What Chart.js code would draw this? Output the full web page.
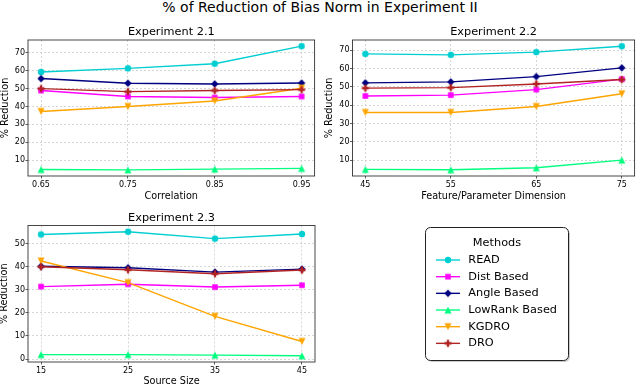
<!DOCTYPE html>
<html>
<head>
<meta charset="utf-8">
<script src="https://cdn.jsdelivr.net/npm/chart.js@4.4.1/dist/chart.umd.min.js"></script>
<style>
    body { margin: 0; width: 640px; height: 386px; overflow: hidden; background: #fff; position: relative; font-family: 'DejaVu Sans', sans-serif; }
    #main-title { position: absolute; left: 0; top: 0; width: 640px; text-align: center; font-size: 14px; line-height: 14px; color: #000; }
    canvas { position: absolute; }
</style>
</head>
<body>
<div id="main-title">% of Reduction of Bias Norm in Experiment II</div>
<canvas id="exp21" width="320" height="190" style="left:0;top:20px"></canvas>
<canvas id="exp22" width="320" height="190" style="left:320px;top:20px"></canvas>
<canvas id="exp23" width="640" height="180" style="left:0;top:210px"></canvas>
<script>
const methods = ['READ', 'Dist Based', 'Angle Based', 'LowRank Based', 'KGDRO', 'DRO'];

// Experiment 2.1 - correlation
const correlation = [0.65, 0.75, 0.85, 0.95];
const correlationLabels = ['0.65', '0.75', '0.85', '0.95'];
const read21 = [59.3, 61.3, 63.9, 73.7];
const dist21 = [48.9, 45.6, 45.0, 45.6];
const angle21 = [55.6, 53.0, 52.6, 53.1];
const lowrank21 = [4.8, 4.6, 5.0, 5.4];
const kgdro21 = [37.2, 40.0, 43.1, 50.2];
const dro21 = [50.0, 48.3, 48.9, 49.4];
const yTicks21 = [10, 20, 30, 40, 50, 60, 70];

// Experiment 2.2 - feature/parameter dimension
const dimension = [45, 55, 65, 75];
const dimensionLabels = ['45', '55', '65', '75'];
const read22 = [68.0, 67.5, 69.0, 72.2];
const dist22 = [45.0, 45.5, 48.5, 54.2];
const angle22 = [52.2, 52.7, 55.6, 60.4];
const lowrank22 = [4.9, 4.7, 5.8, 10.0];
const kgdro22 = [36.0, 36.0, 39.3, 46.2];
const dro22 = [49.3, 49.6, 51.6, 54.0];
const yTicks22 = [10, 20, 30, 40, 50, 60, 70];

// Experiment 2.3 - source size
const sourceSize = [15, 25, 35, 45];
const sourceSizeLabels = ['15', '25', '35', '45'];
const read23 = [54.0, 55.2, 52.2, 54.2];
const dist23 = [31.4, 32.4, 31.2, 32.0];
const angle23 = [40.2, 39.6, 37.7, 39.0];
const lowrank23 = [1.9, 1.9, 1.7, 1.4];
const kgdro23 = [42.5, 33.1, 18.5, 7.6];
const dro23 = [40.0, 38.7, 37.0, 38.6];
const yTicks23 = [0, 10, 20, 30, 40, 50];

const methodColors = ['#00ced1', '#ff00ff', '#000080', '#00ff7f', '#ffa500', '#b22222'];
const methodMarkers = ['circle', 'square', 'diamond', 'triangleUp', 'triangleDown', 'plus'];

Chart.defaults.font.family = "'DejaVu Sans', sans-serif";
Chart.defaults.color = '#000';

function makeMarker(shape, color) {
    const c = document.createElement('canvas');
    c.width = 10;
    c.height = 10;
    const g = c.getContext('2d');
    g.fillStyle = color;
    g.beginPath();
    if (shape === 'circle') {
        g.arc(5, 5, 3.2, 0, Math.PI * 2);
    } else if (shape === 'square') {
        g.rect(2.2, 2.2, 5.6, 5.6);
    } else if (shape === 'diamond') {
        g.moveTo(5, 1.3); g.lineTo(8.7, 5); g.lineTo(5, 8.7); g.lineTo(1.3, 5); g.closePath();
    } else if (shape === 'triangleUp') {
        g.moveTo(5, 1.5); g.lineTo(8.5, 8.5); g.lineTo(1.5, 8.5); g.closePath();
    } else if (shape === 'triangleDown') {
        g.moveTo(5, 8.5); g.lineTo(8.5, 1.5); g.lineTo(1.5, 1.5); g.closePath();
    } else if (shape === 'plus') {
        g.rect(1.5, 3.8, 7, 2.4);
        g.rect(3.8, 1.5, 2.4, 7);
    }
    g.fill();
    return c;
}

const markerImages = methodMarkers.map((m, i) => makeMarker(m, methodColors[i]));

// axes box on all four sides, like matplotlib spines
const framePlugin = {
    id: 'frame',
    afterDraw(chart) {
        const { ctx, chartArea: a } = chart;
        ctx.save();
        ctx.strokeStyle = '#333';
        ctx.lineWidth = 0.9;
        ctx.strokeRect(a.left, a.top, a.right - a.left, a.bottom - a.top);
        ctx.restore();
    }
};

const legendPlugin = {
    id: 'methodsLegend',
    afterDraw(chart) {
        const ctx = chart.ctx;
        const bx = 425.5, by = 17.5, bw = 143, bh = 133;
        ctx.save();
        ctx.fillStyle = 'rgba(0,0,0,0.2)';
        ctx.beginPath();
        ctx.roundRect(bx + 1.5, by + 1.5, bw, bh, 5);
        ctx.fill();
        ctx.fillStyle = '#fff';
        ctx.strokeStyle = '#222';
        ctx.lineWidth = 1;
        ctx.beginPath();
        ctx.roundRect(bx, by, bw, bh, 5);
        ctx.fill();
        ctx.stroke();

        ctx.fillStyle = '#000';
        ctx.font = "11.3px 'DejaVu Sans', sans-serif";
        ctx.textBaseline = 'middle';
        ctx.textAlign = 'center';
        ctx.fillText('Methods', 497, 33.2);

        ctx.textAlign = 'left';
        chart.data.datasets.forEach((ds, i) => {
            const y = 50 + i * 16.67;
            ctx.strokeStyle = ds.borderColor;
            ctx.lineWidth = 1.4;
            ctx.beginPath();
            ctx.moveTo(436, y);
            ctx.lineTo(460, y);
            ctx.stroke();
            ctx.drawImage(ds.pointStyle, 443, y - 5);
            ctx.fillStyle = '#000';
            ctx.fillText(ds.label, 468.3, y);
        });
        ctx.restore();
    }
};

function buildChart(id, opt) {
    const datasets = opt.series.map((vals, i) => ({
        label: methods[i],
        data: opt.x.map((x, j) => ({ x: x, y: vals[j] })),
        borderColor: methodColors[i],
        backgroundColor: methodColors[i],
        borderWidth: 1.4,
        pointStyle: markerImages[i],
        pointRadius: 3,
        order: methods.length - i,
        clip: false
    }));

    const gridOpts = { color: '#cccccc', lineWidth: 0.8, tickLength: 2.5, tickColor: '#333', tickWidth: 0.8 };

    return new Chart(document.getElementById(id), {
        type: 'line',
        data: { datasets },
        options: {
            responsive: false,
            animation: false,
            devicePixelRatio: 1,
            layout: { padding: { left: 0, top: 0, right: opt.padRight, bottom: 0 } },
            plugins: {
                legend: { display: false },
                tooltip: { enabled: false },
                title: {
                    display: true,
                    text: opt.title,
                    fullSize: false,
                    font: { size: 11.3, weight: 'normal' },
                    padding: opt.titlePad
                }
            },
            scales: {
                x: {
                    type: 'linear',
                    min: opt.xMin,
                    max: opt.xMax,
                    afterBuildTicks: s => { s.ticks = opt.x.map(v => ({ value: v })); },
                    afterFit: s => { s.height = opt.xAxisHeight; },
                    ticks: { callback: (v, i) => opt.xLabels[i], autoSkip: false, maxRotation: 0, padding: 1.6, font: { size: 8 } },
                    grid: gridOpts,
                    border: { display: false, dash: [2, 2] },
                    title: { display: true, text: opt.xTitle, font: { size: 9.7 }, padding: { top: 0, bottom: opt.xTitlePad } }
                },
                y: {
                    min: opt.yMin,
                    max: opt.yMax,
                    afterBuildTicks: s => { s.ticks = opt.yTicks.map(v => ({ value: v })); },
                    afterFit: s => { s.width = opt.yAxisWidth; },
                    ticks: { callback: v => String(v), autoSkip: false, padding: 0.5, font: { size: 8 } },
                    grid: gridOpts,
                    border: { display: false, dash: [2, 2] },
                    title: { display: true, text: '% Reduction', font: { size: 9.7, lineHeight: 1 }, padding: { top: opt.yTitlePad, bottom: 0 } }
                }
            }
        },
        plugins: [framePlugin].concat(opt.extraPlugins || [])
    });
}

buildChart('exp21', {
    title: 'Experiment 2.1',
    x: correlation, xLabels: correlationLabels, xTitle: 'Correlation',
    series: [read21, dist21, angle21, lowrank21, kgdro21, dro21],
    xMin: 0.635, xMax: 0.965, yMin: 1.15, yMax: 77.15, yTicks: yTicks21,
    yAxisWidth: 28, xAxisHeight: 34, padRight: 5,
    titlePad: { top: 5.2, bottom: 1.24 }, yTitlePad: 0.15, xTitlePad: 7.5
});

buildChart('exp22', {
    title: 'Experiment 2.2',
    x: dimension, xLabels: dimensionLabels, xTitle: 'Feature/Parameter Dimension',
    series: [read22, dist22, angle22, lowrank22, kgdro22, dro22],
    xMin: 43.5, xMax: 76.5, yMin: 1.3, yMax: 75.6, yTicks: yTicks22,
    yAxisWidth: 32.5, xAxisHeight: 34, padRight: 0.5,
    titlePad: { top: 5.2, bottom: 1.24 }, yTitlePad: 4.85, xTitlePad: 7.5
});

buildChart('exp23', {
    title: 'Experiment 2.3',
    x: sourceSize, xLabels: sourceSizeLabels, xTitle: 'Source Size',
    series: [read23, dist23, angle23, lowrank23, kgdro23, dro23],
    xMin: 13.5, xMax: 46.5, yMin: -1.3, yMax: 57.9, yTicks: yTicks23,
    yAxisWidth: 28, xAxisHeight: 28, padRight: 325,
    titlePad: { top: 1.2, bottom: 0.74 }, yTitlePad: 0, xTitlePad: 2.5,
    extraPlugins: [legendPlugin]
});
</script>
</body>
</html>
